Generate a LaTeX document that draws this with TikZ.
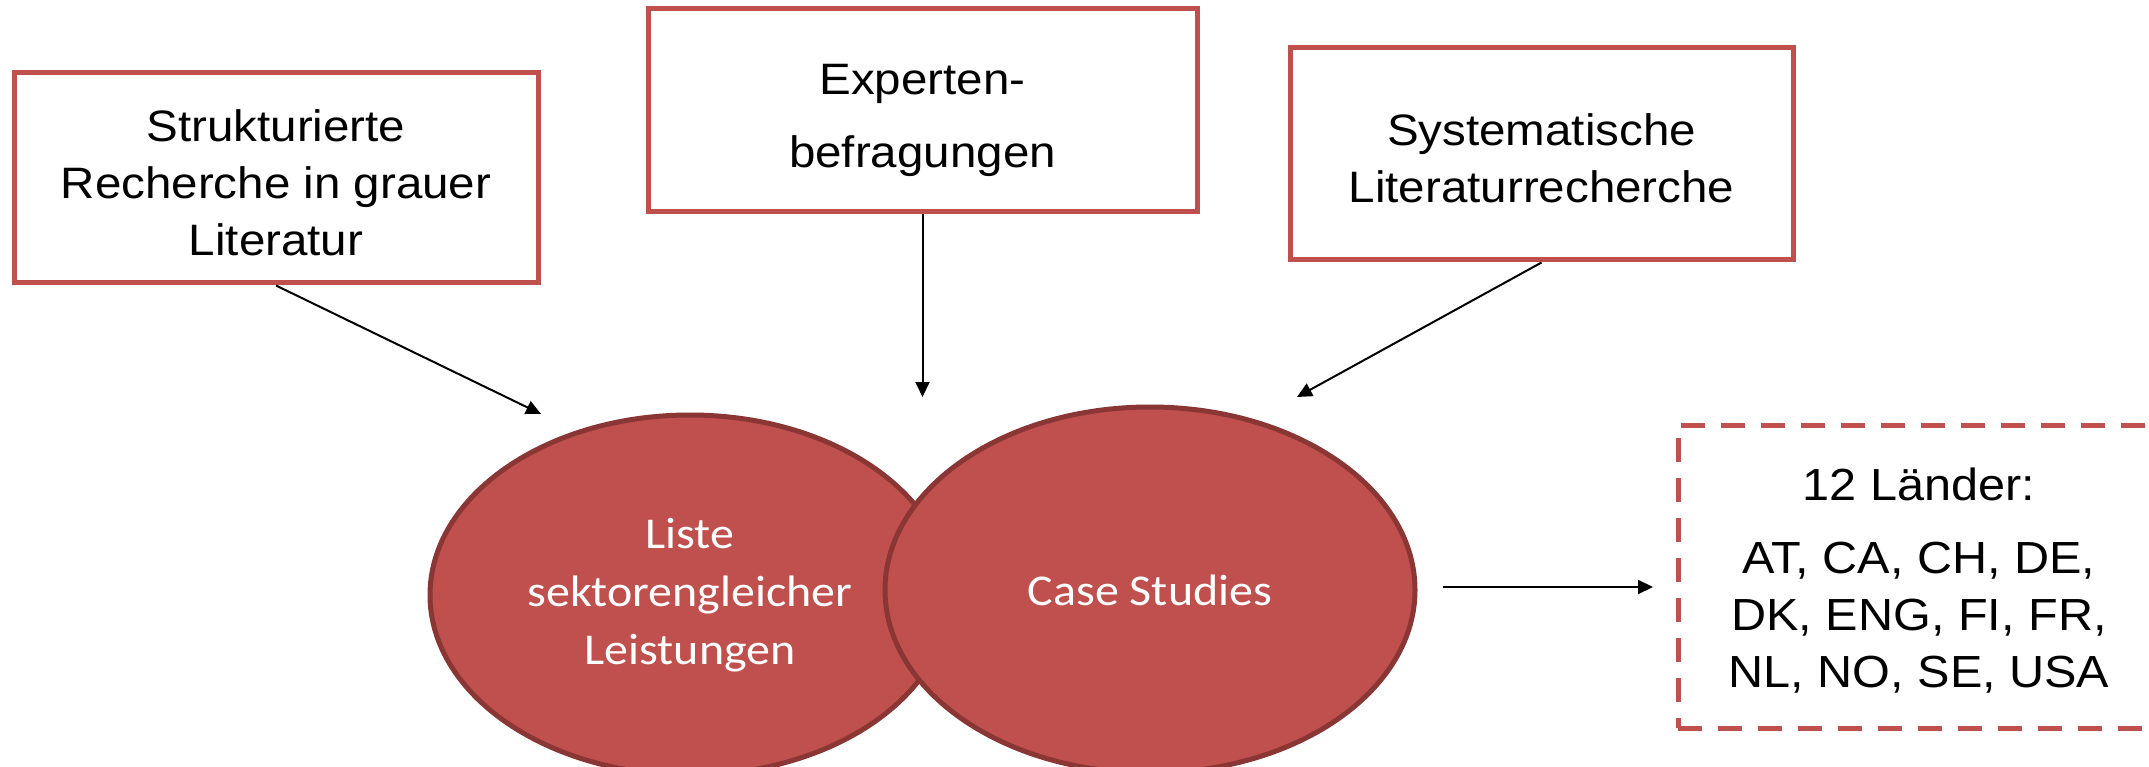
\documentclass[tikz,border=0pt]{standalone}
\usepackage{fontspec}
\setmainfont{Liberation Sans}[FakeStretch=1.08]
\newfontfamily\calib{Carlito}[FakeStretch=1.09]
\usetikzlibrary{arrows.meta,shapes.geometric}
\definecolor{boxred}{HTML}{C0504D}
\definecolor{darkred}{HTML}{8A3634}
\begin{document}
\begin{tikzpicture}[x=1pt,y=-1pt,
  srcbox/.style={draw=boxred,line width=5pt,rectangle,inner sep=0pt},
  boxtext/.style={align=center,font=\fontsize{44}{57}\selectfont,inner sep=0pt},
  oval/.style={ellipse,draw=darkred,fill=boxred,line width=5pt,text=white,align=center,font=\calib\fontsize{44}{58}\selectfont,inner sep=0pt},
  landbox/.style={draw=boxred,line width=5pt,dash pattern=on 24pt off 16pt,rectangle,inner sep=0pt},
  landtext/.style={align=center,font=\fontsize{45}{57}\selectfont,inner sep=0pt},
  conn/.style={-{Triangle[length=15pt,width=14pt]},line width=2pt}]
\useasboundingbox (0,0) rectangle (2149,767);
\clip (0,0) rectangle (2149,767);
\fill[white] (0,0) rectangle (2149,767);
% source boxes
\node[srcbox,minimum width=524pt,minimum height=210pt] (b1) at (276,178) {};
\node[boxtext] (t1) at (276,183) {Strukturierte\\Recherche in grauer\\Literatur};
\node[srcbox,minimum width=549pt,minimum height=203pt] (b2) at (922.5,110.5) {};
\node[boxtext] (t2) at (922.5,120.5) {Experten-\\[16pt]befragungen};
\node[srcbox,minimum width=503pt,minimum height=212pt] (b3) at (1541.5,154) {};
\node[boxtext] (t3) at (1541.5,158) {Systematische\\Literaturrecherche};
% ellipses
\node[oval,minimum width=520pt,minimum height=360pt] (e1) at (690,595) {Liste\\sektorengleicher\\Leistungen};
\node[oval,minimum width=530pt,minimum height=366pt] (e2) at (1150,590) {Case Studies};
% countries box
\node[landbox,minimum width=482pt,minimum height=303pt] (land) at (1919,576.5) {};
\node[landtext] (lt) at (1919,581) {12 Länder:\\[16pt]AT, CA, CH, DE,\\DK, ENG, FI, FR,\\NL, NO, SE, USA};
% connector end points
\coordinate (a1e) at (541,414);
\coordinate (a2e) at (922.5,397);
\coordinate (a3e) at (1297,397);
\coordinate (a4s) at (1443,587);
\coordinate (a4e) at (1653,587);
\draw[conn] (b1.south) -- (a1e);
\draw[conn] (b2.south) -- (a2e);
\draw[conn] (b3.south) -- (a3e);
\draw[conn] (a4s) -- (a4e);
\end{tikzpicture}
\end{document}
